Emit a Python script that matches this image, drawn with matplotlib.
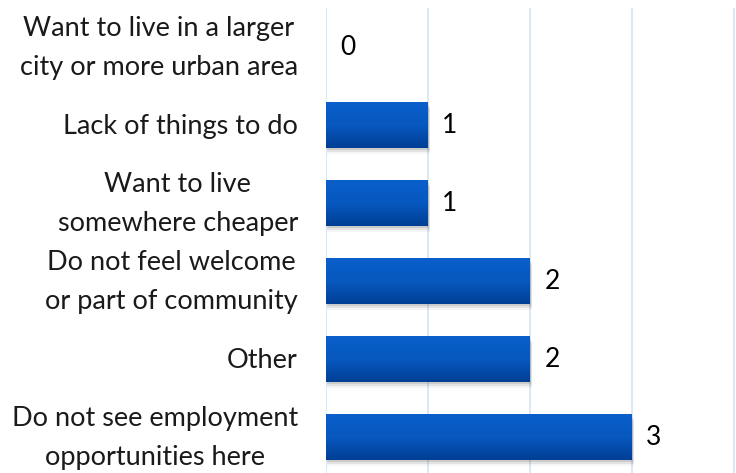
import numpy as np
import matplotlib
matplotlib.use("Agg")
import matplotlib.pyplot as plt
from matplotlib.colors import LinearSegmentedColormap
from matplotlib.patches import Rectangle
from matplotlib.transforms import ScaledTranslation

categories = [
    "Do not see employment\nopportunities here",
    "Other",
    "Do not feel welcome\nor part of community",
    "Want to live\nsomewhere cheaper",
    "Lack of things to do",
    "Want to live in a larger\ncity or more urban area",
]
values = [3, 2, 2, 1, 1, 0]

plt.rcParams['font.family'] = ['Lato', 'DejaVu Sans']

W, H = 736, 473
fig = plt.figure(figsize=(W / 100, H / 100), dpi=100)
ax = fig.add_axes([326 / W, -3 / H, 410 / W, 468 / H])

ypos = np.arange(len(categories))
bars = ax.barh(ypos, values, height=0.58, color='#0450b4', zorder=3)

ax.set_xlim(0, 4.02)
ax.set_ylim(-0.5, len(categories) - 0.5)

cmap = LinearSegmentedColormap.from_list('g', ['#003f94', '#0758bf', '#0a5fcb'])
grad = np.linspace(0, 1, 256).reshape(-1, 1)
for b in bars:
    x0, y0 = b.get_x(), b.get_y()
    w, h = b.get_width(), b.get_height()
    if w <= 0:
        continue
    for k, a in enumerate([0.10, 0.07, 0.04]):
        ax.add_patch(Rectangle((x0 + 0.01, y0 - 0.03 - 0.025 * k), w + 0.005 * k, h,
                               color='black', alpha=a, zorder=2, lw=0))
    ax.imshow(grad, cmap=cmap, aspect='auto', origin='lower',
              extent=[x0, x0 + w, y0, y0 + h], zorder=4)

for y, v in zip(ypos, values):
    ax.text(v + 0.14, y, str(v), va='center', ha='left', fontsize=19,
            color='black', zorder=5)

# category labels
ax.set_yticks(ypos)
ax.set_yticklabels([])
ax.tick_params(axis='y', length=0)
lab_tr = ax.get_yaxis_transform() + ScaledTranslation(-28 / 100, -1 / 100, fig.dpi_scale_trans)
for y, cat in zip(ypos, categories):
    ax.text(0, y, cat, transform=lab_tr, ha='right', va='center',
            multialignment='center', fontsize=19.5, color='#1a1a1a',
            linespacing=1.68, clip_on=False)

ax.set_xticks([0, 1, 2, 3, 4])
ax.set_xticklabels([])
ax.tick_params(axis='x', length=0)
ax.grid(axis='x', color='#d9e3f1', lw=1.2, zorder=0)
for s in ax.spines.values():
    s.set_visible(False)

fig.savefig('out.png', dpi=100)
